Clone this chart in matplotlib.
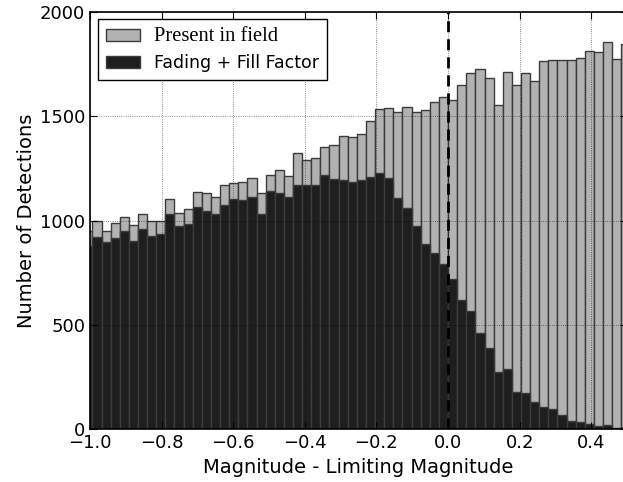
import numpy as np
import matplotlib
matplotlib.use("Agg")
import matplotlib.pyplot as plt

# ancho de bin y bordes (histograma recortado en -1.0 .. 0.5)
bin_width = 0.02547
n_left = 40  # bins a la izquierda de 0

present = [950, 999, 951, 990, 1018, 978, 1030, 999, 999, 1101,
           1034, 1055, 1138, 1130, 1112, 1168, 1181, 1186, 1203, 1130,
           1218, 1240, 1213, 1321, 1289, 1297, 1353, 1360, 1404, 1400,
           1415, 1478, 1532, 1540, 1518, 1543, 1521, 1527, 1567, 1592,
           1575, 1650, 1704, 1725, 1680, 1553, 1711, 1647, 1704, 1670,
           1765, 1770, 1766, 1768, 1779, 1812, 1805, 1856, 1774, 1843]

fading = [878, 922, 899, 918, 951, 902, 961, 927, 935, 1031,
          975, 983, 1066, 1047, 1030, 1073, 1103, 1098, 1114, 1032,
          1141, 1130, 1114, 1170, 1170, 1170, 1219, 1197, 1194, 1184,
          1194, 1210, 1226, 1202, 1109, 1061, 975, 888, 846, 793,
          720, 620, 568, 463, 388, 277, 288, 181, 173, 133,
          108, 100, 69, 42, 34, 28, 17, 22, 9, 12]

left_edges = (np.arange(len(present)) - n_left) * bin_width

fig = plt.figure(figsize=(6.23, 4.82), dpi=100)
ax = fig.add_axes([0.1445, 0.109, 0.862, 0.867])

ax.bar(left_edges, present, width=bin_width, align='edge',
       color='#b2b2b2', edgecolor='#3c3c3c', linewidth=1.0,
       label='Present in field')
ax.bar(left_edges, fading, width=bin_width, align='edge',
       color='#1e1e1e', edgecolor='#3c3c3c', linewidth=1.0,
       label='Fading + Fill Factor')

ax.axvline(0, color='black', linestyle='--', linewidth=2, dashes=(4, 2.5))

ax.set_xlim(-1.0, 0.5)
ax.set_ylim(0, 2000)
ax.set_xticks(np.arange(-1.0, 0.41, 0.2))
ax.set_yticks([0, 500, 1000, 1500, 2000])
ax.tick_params(direction='in', top=True, right=True, labelsize=13, length=5)
ax.grid(True, color='black', linestyle=':', linewidth=0.6, alpha=0.6)
ax.set_axisbelow(False)

ax.set_xlabel('Magnitude - Limiting Magnitude', fontsize=14)
ax.set_ylabel('Number of Detections', fontsize=14, labelpad=3)

leg = ax.legend(loc='upper left', fontsize=12.5, fancybox=False, framealpha=1,
                edgecolor='black', borderaxespad=0.45, handlelength=2.0,
                handletextpad=0.8, borderpad=0.45, labelspacing=0.45)
leg.get_frame().set_linewidth(1.0)
leg.get_texts()[0].set_fontfamily('Liberation Serif')
leg.get_texts()[0].set_fontsize(14.8)

for s in ax.spines.values():
    s.set_linewidth(1.2)

fig.savefig('out.png', dpi=100)
